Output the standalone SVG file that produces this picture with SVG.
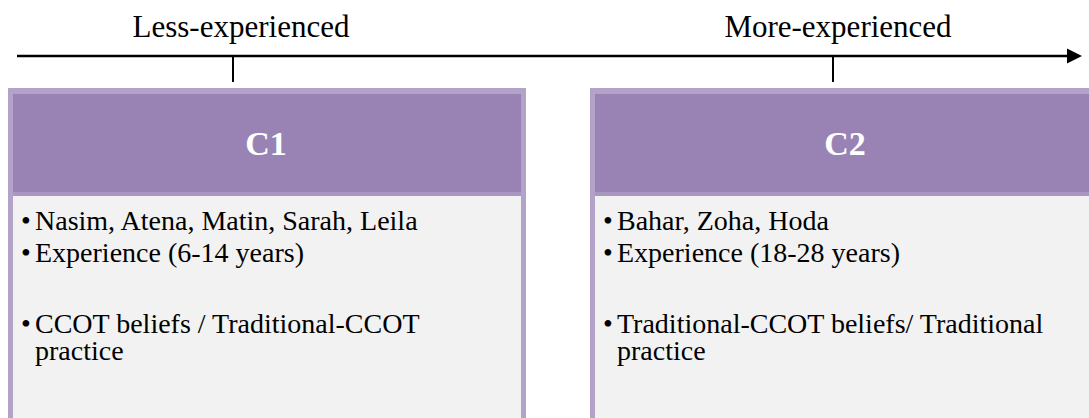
<svg xmlns="http://www.w3.org/2000/svg" width="1089" height="418" viewBox="0 0 1089 418">
<style>
.lbl{font-family:"Liberation Serif","Times New Roman",serif;font-size:31px;fill:#000}
.hd{font-family:"Liberation Serif","Times New Roman",serif;font-size:34px;font-weight:bold;fill:#fff}
.tx{font-family:"Liberation Serif","Times New Roman",serif;font-size:28px;fill:#000}
.outer{fill:#b4a3c9}
.head{fill:#9983b4}
.band{fill:#a997c1}
.body{fill:#f2f2f2}
</style>
<g id="connectors">
<line x1="17" y1="56" x2="1068" y2="56" stroke="#000" stroke-width="2.5"/>
<polygon points="1067,48.5 1082,56 1067,63.5" fill="#000"/>
<line x1="233" y1="56" x2="233" y2="82" stroke="#000" stroke-width="2"/>
<line x1="833" y1="56" x2="833" y2="82" stroke="#000" stroke-width="2"/>
</g>
<g id="axis-labels">
<text class="lbl" x="241" y="37" text-anchor="middle">Less-experienced</text>
<text class="lbl" x="838" y="37" text-anchor="middle">More-experienced</text>
</g>
<g id="C1">
<rect class="outer" x="8" y="88" width="518" height="340"/>
<rect class="head" x="13" y="94" width="508" height="98"/>
<rect class="band" x="13" y="192" width="508" height="4"/>
<rect class="body" x="13" y="196" width="508" height="230"/>
<text class="hd" x="266" y="155" text-anchor="middle">C1</text>
<text class="tx" x="21" y="230">•</text>
<text class="tx" x="35" y="230">Nasim, Atena, Matin, Sarah, Leila</text>
<text class="tx" x="21" y="262">•</text>
<text class="tx" x="35" y="262">Experience (6-14 years)</text>
<text class="tx" x="21" y="333">•</text>
<text class="tx" x="35" y="333">CCOT beliefs / Traditional-CCOT</text>
<text class="tx" x="35" y="360">practice</text>
</g>
<g id="C2">
<rect class="outer" x="590" y="88" width="518" height="340"/>
<rect class="head" x="595" y="94" width="508" height="98"/>
<rect class="band" x="595" y="192" width="508" height="4"/>
<rect class="body" x="595" y="196" width="508" height="230"/>
<text class="hd" x="845" y="155" text-anchor="middle">C2</text>
<text class="tx" x="603" y="230">•</text>
<text class="tx" x="617" y="230">Bahar, Zoha, Hoda</text>
<text class="tx" x="603" y="262">•</text>
<text class="tx" x="617" y="262">Experience (18-28 years)</text>
<text class="tx" x="603" y="333">•</text>
<text class="tx" x="617" y="333">Traditional-CCOT beliefs/ Traditional</text>
<text class="tx" x="617" y="360">practice</text>
</g>
</svg>
